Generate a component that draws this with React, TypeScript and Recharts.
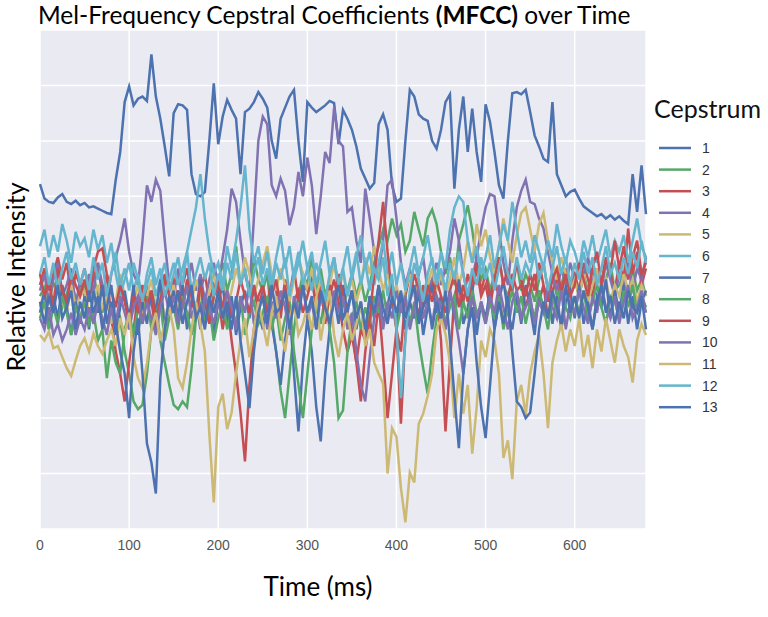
import React from 'react';
import { LineChart, Line, XAxis, YAxis, CartesianGrid, Legend } from 'recharts';

// sample times (ms)
const times = [
  0, 5, 10, 15, 20, 25, 30, 35, 40, 45,
  50, 55, 60, 65, 70, 75, 80, 85, 90, 95,
  100, 105, 110, 115, 120, 125, 130, 135, 140, 145,
  150, 155, 160, 165, 170, 175, 180, 185, 190, 195,
  200, 205, 210, 215, 220, 225, 230, 235, 240, 245,
  250, 255, 260, 265, 270, 275, 280, 285, 290, 295,
  300, 305, 310, 315, 320, 325, 330, 335, 340, 345,
  350, 355, 360, 365, 370, 375, 380, 385, 390, 395,
  400, 405, 410, 415, 420, 425, 430, 435, 440, 445,
  450, 455, 460, 465, 470, 475, 480, 485, 490, 495,
  500, 505, 510, 515, 520, 525, 530, 535, 540, 545,
  550, 555, 560, 565, 570, 575, 580, 585, 590, 595,
  600, 605, 610, 615, 620, 625, 630, 635, 640, 645,
  650, 655, 660, 665, 670, 675, 680,
];

const cep1 = [
  111, 98, 95, 94, 99, 102, 95, 93, 96, 92,
  94, 90, 91, 89, 87, 85, 84, 115, 140, 185,
  199, 182, 188, 190, 186, 228, 190, 170, 145, 118,
  175, 183, 182, 178, 120, 102, 100, 104, 150, 202,
  147, 172, 187, 178, 170, 120, 176, 179, 185, 194,
  188, 180, 150, 134, 170, 180, 190, 196, 150, 113,
  185, 180, 176, 179, 182, 186, 184, 147, 178, 170,
  160, 145, 125, 116, 107, 112, 165, 174, 160, 110,
  95, 98, 150, 196, 190, 174, 170, 168, 150, 143,
  160, 185, 192, 107, 160, 190, 140, 179, 140, 113,
  183, 167, 140, 110, 98, 150, 193, 194, 192, 196,
  176, 155, 145, 134, 131, 185, 120, 110, 100, 104,
  106, 98, 91, 88, 85, 82, 84, 80, 83, 79,
  82, 78, 75, 120, 86, 128, 84,
];

const cep2 = [
  10, 18, 5, 22, 14, 0, 12, 25, 8, 15,
  20, 5, 28, 12, -5, 10, 0, -20, -10, -40,
  -60, -85, -92, -88, -60, -20, 5, -30, -50, -70,
  -88, -92, -85, -90, -55, -10, 20, 5, -15, 10,
  25, 40, 15, 30, 55, 20, 35, 10, 45, 25,
  15, 30, -10, -40, -75, -100, -60, -20, 10, 30,
  20, 45, 15, 35, 10, 25, 40, 20, 0, 15,
  30, 10, 25, 5, 20, 40, 55, 70, 60, 80,
  65, 75, 50, 60, 86, 70, 55, 80, 88, 75,
  50, 30, 45, 20, 60, 75, 92, 70, 40, 25,
  35, 15, 30, 45, 20, 10, 25, 40, 15, 30,
  20, 5, 25, 40, 15, 30, 10, 20, 35, 15,
  25, 10, 30, 15, 35, 20, 5, 25, 40, 15,
  20, 30, 10, 35, 15, 25, 10,
];

const cep3 = [
  20, 35, 15, 30, 45, 25, 40, 10, 30, 20,
  35, 15, 25, 40, 10, 30, -10, -40, -60, -85,
  -50, -20, 10, -15, 20, 5, -20, 10, 30, 15,
  25, 0, 20, 35, 10, -5, 15, 30, 5, 20,
  10, -20, 5, -30, -60, -95, -139, -70, -20, 10,
  20, 0, 30, 15, -10, 25, 10, 35, 5, 20,
  15, 30, 0, 20, -15, 10, 25, 5, -20, -40,
  -25, -50, -20, -30, -10, -35, 5, -45, -100, -60,
  -20, -40, 10, 30, 15, -10, 20, 0, 25, 10,
  -30, -112, -50, 10, 25, 5, 30, 15, 35, 10,
  20, 0, 25, 10, -15, 5, 30, 15, 20, 0,
  15, 30, 5, 20, -10, 15, 25, 10, 35, 20,
  30, 15, 40, 25, 10, 35, 20, 45, 30, 15,
  40, 25, 71, 30, 50, 20, 35,
];

const cep4 = [
  15, 30, 5, 25, 40, 10, 20, 35, 0, 25,
  10, 30, 15, 40, 20, 5, 30, 45, 60, 80,
  50, 30, 20, 60, 110, 95, 115, 105, 60, 20,
  10, 35, 0, 20, 40, 15, 30, 5, 25, 40,
  20, 45, 70, 107, 95, 60, 30, 15, 80, 150,
  172, 165, 110, 100, 116, 105, 74, 90, 122, 100,
  135, 110, 66, 100, 140, 130, 180, 150, 145, 86,
  90, 60, 40, 107, 80, 50, 30, 60, 110, 115,
  80, 40, 20, 35, 10, 30, 45, 15, 25, 40,
  20, 35, 50, 80, 60, 30, 10, 25, 45, 70,
  90, 102, 100, 70, 40, 20, 60, 90, 105, 115,
  95, 93, 80, 71, 50, 30, 15, 35, 20, 40,
  25, 10, 30, 45, 20, 35, 15, 40, 25, 10,
  30, 20, 40, 15, 35, 25, 45,
];

const cep5 = [
  0, 15, -10, 10, 25, 5, -5, 20, 0, 10,
  15, -5, 5, 20, 0, 10, -15, 5, 30, 10,
  -10, 5, 20, -5, 10, 25, 0, 15, -10, 5,
  20, 0, 10, -15, 5, 25, 10, -5, 15, 30,
  10, 25, 0, 15, 35, 20, 45, 30, 10, 25,
  40, 55, 30, 15, 35, 20, 5, 25, 45, 30,
  15, 35, 10, 25, 0, 20, 40, 15, 30, 10,
  25, 5, 20, 45, 30, 55, 35, 15, 30, 10,
  20, 0, 15, 30, 10, 25, 5, 20, 35, 15,
  30, 10, 25, 45, 20, 35, 60, 40, 75, 55,
  70, 45, 30, 55, 80, 60, 40, 65, 85, 90,
  70, 50, 75, 85, 60, 40, 25, 45, 30, 15,
  25, 10, 30, 5, 20, 35, 15, 25, 5, 20,
  10, 30, 15, 25, 5, 20, 10,
];

const cep6 = [
  55, 70, 45, 65, 50, 75, 60, 40, 68, 55,
  62, 45, 70, 52, 65, 40, 58, 30, 10, 25,
  40, 15, 30, 5, 20, 35, 10, 25, 40, 15,
  30, 45, 20, 50, 70, 90, 120, 80, 50, 30,
  40, 20, 55, 35, 60, 90, 128, 70, 40, 55,
  30, 50, 20, 45, 65, 35, 55, 25, 40, 60,
  35, 50, 20, 40, 60, 30, 45, 15, 35, 55,
  25, 45, 65, 35, 50, 20, 40, 60, 30, 50,
  20, 40, 15, 35, 55, 30, 45, 65, 40, 25,
  50, 35, 70, 90, 100, 95, 60, 40, 55, 30,
  45, 65, 35, 55, 75, 60, 95, 70, 45, 60,
  40, 65, 50, 35, 60, 45, 75, 55, 40, 60,
  50, 35, 60, 45, 65, 40, 55, 70, 45, 60,
  50, 65, 40, 60, 80, 55, 45,
];

const cep7 = [
  -5, 15, -20, 10, -10, 20, 0, -25, 5, -15,
  10, -20, 15, -5, 20, -15, 5, -25, 0, 15,
  -10, 20, -25, 5, -15, 15, -5, 25, -20, 0,
  15, -10, 20, -20, 5, -5, 25, -15, 10, -25,
  5, 20, -15, 10, -25, 0, 15, -10, 20, -5,
  -20, 10, -15, -40, -70, -30, 0, -60, -112, -50,
  -10, -40, -90, -121, -60, -20, 10, -15, 20, -5,
  15, -20, 5, -25, 10, -10, 20, -15, 0, 25,
  -15, 10, -20, 5, -10, 15, -25, 0, 20, -5,
  10, -20, 15, -10, 25, -15, 0, 20, -25, 5,
  -10, 15, -20, 5, 25, -5, -20, 10, -15, 20,
  0, -25, 15, -5, 20, -15, 10, -20, 5, 15,
  -10, 20, -15, 5, -20, 10, 0, 25, -10, 15,
  -5, 20, -15, 10, -20, 5, 15,
];

const cep8 = [
  -10, 5, -20, 0, -15, 10, -5, -25, 0, -10,
  5, -15, -5, -30, -20, -64, -30, -50, -60, -20,
  -5, -25, 0, -15, 10, -20, -5, 5, -30, -10,
  0, -20, 10, -5, -25, -10, 5, -15, 0, -30,
  -10, 5, -20, 0, -15, 10, -25, -5, 5, -15,
  -5, 10, -20, 0, -30, -10, 5, -40, -70, -100,
  -60, -20, 0, -15, 10, -20, -50, -100, -93, -40,
  -10, 5, -20, 0, -15, 10, -5, 15, -10, 5,
  -20, 0, 10, -15, 5, -30, -55, -78, -40, -10,
  5, -15, 0, 10, -20, 5, -10, 15, -5, 0,
  -15, 5, -10, 10, -20, 0, 15, -5, 10, -15,
  5, -10, 15, 0, -20, 10, -5, 20, 0, -10,
  10, -5, 15, -10, 5, 20, 0, -15, 10, 5,
  -10, 15, 0, 20, -5, 10, 0,
];

const cep9 = [
  30, 10, 25, 0, 35, 15, 5, 30, 20, 10,
  25, 5, 35, 50, 53, 30, 15, 0, 20, 5,
  -15, 10, -5, 20, 0, 15, -10, 5, 25, 10,
  -5, 15, 0, 25, 10, -10, 20, 5, -15, 10,
  20, 0, 15, -10, 5, 25, 10, -5, 20, 0,
  15, -5, 10, 25, 0, 20, -10, 5, 15, -5,
  10, 25, 0, 15, -10, 20, 5, 30, 10, -5,
  -20, -50, -85, -40, -10, 30, 60, 95, 50, 10,
  -20, -105, -24, 10, 30, 15, 0, 20, 5, 25,
  10, -5, 15, 30, 0, 20, 5, 25, 40, 15,
  30, 10, 25, 45, 20, 35, 15, 40, 25, 10,
  30, 15, 40, 20, 5, 25, 35, 15, 30, 10,
  20, 40, 25, 10, 35, 50, 20, 45, 30, 60,
  35, 55, 25, 45, 60, 30, 40,
];

const cep10 = [
  -10, -20, 0, -25, -15, -30, -20, -5, -25, -10,
  -20, 0, -15, 5, -10, -25, 0, -15, 10, -5,
  -20, 0, 10, -15, 5, -10, -25, 0, 15, -5,
  10, -15, 0, 20, -10, 5, -20, 10, 0, -15,
  5, -10, 15, 0, -20, 10, -5, 20, -15, 0,
  10, -20, 5, -10, 15, 0, -25, 10, -5, 20,
  -10, 5, -20, 10, 0, -15, 15, -5, 10, -20,
  -5, -40, -70, -85, -45, -10, 10, -20, 5, -10,
  15, -5, 10, -20, 0, 20, -10, 5, -15, 10,
  0, -20, 15, -5, -30, -60, -20, 10, -10, 5,
  -15, 10, -5, 20, 0, -20, 5, 15, -10, 0,
  10, -15, 5, -5, 20, 0, -10, 15, -20, 5,
  -5, 15, 0, -15, 10, -5, 20, 0, -10, 10,
  -15, 5, 20, -10, 0, 15, -5,
];

const cep11 = [
  -25, -30, -22, -37, -35, -45, -55, -62, -48, -35,
  -28, -40, -24, -35, -42, -30, -20, -35, -10, -25,
  -5, -45, -64, -73, -50, -20, -5, -30, -15, 0,
  -20, -64, -73, -50, -20, 5, -15, -40, -114, -176,
  -90, -78, -110, -95, -60, -30, -10, -45, -20, 5,
  -15, -35, -5, 10, -20, -40, -10, 5, -25, -15,
  0, -20, 10, -30, -5, 15, -25, -45, -20, -5,
  -30, -15, 5, -35, -20, -50, -60, -69, -150, -109,
  -117, -163, -194, -149, -158, -105, -96, -80, -60, -20,
  -10, -24, -50, -100, -60, -96, -70, -132, -90, -30,
  -45, -20, -30, -60, -136, -120, -155, -85, -70, -97,
  -60, -40, -25, -60, -109, -50, -30, -15, -40, -20,
  -35, -10, -45, -25, -55, -20, -40, -10, -30, -50,
  -20, -35, -45, -68, -30, -15, -25,
];

const cep12 = [
  30, 45, 20, 40, 15, 35, 50, 25, 40, 20,
  35, 15, 45, 25, 40, 10, 30, 50, 20, 35,
  15, 40, 25, 5, 30, 45, 20, 35, 10, 25,
  40, 20, 35, 50, 15, 30, 45, 25, 40, 10,
  30, 15, 40, 25, 50, 20, 35, 10, 30, 45,
  20, 35, 15, 40, 25, 45, 10, 30, 50, 20,
  35, 15, 40, 25, 5, 30, 45, 20, 35, 10,
  30, 50, 20, 40, 15, 35, 25, 45, 10, 30,
  -20, -82, -30, 15, 40, 25, 5, 30, 45, 20,
  35, 15, 40, 25, 50, 30, 10, 35, 20, 45,
  25, 40, 15, 35, 55, 30, 20, 45, 25, 40,
  30, 50, 25, 40, 15, 35, 55, 30, 45, 20,
  40, 25, 50, 30, 45, 20, 35, 55, 30, 40,
  25, 45, 30, 50, 35, 60, 40,
];

const cep13 = [
  5, -15, 10, -5, 20, -10, 0, 15, -20, 5,
  -10, 15, -5, 10, -20, 0, 20, -15, -40, -60,
  -100, -40, -10, -60, -123, -140, -168, -64, -20, 10,
  -5, 15, -15, 5, 20, -10, 0, -20, 10, -5,
  15, -10, 5, -20, 10, -30, -60, -91, -40, -5,
  10, -15, 20, -5, 0, 15, -20, 5, -10, 20,
  -5, 10, -20, 15, 0, -15, 5, 20, -10, 0,
  15, -10, 5, -20, 10, -5, 20, 0, -15, 10,
  -5, 15, -10, 5, 20, -15, 0, 10, -20, 5,
  -10, 15, -30, -80, -127, -60, -20, 0, -50, -90,
  -118, -70, -20, 5, -15, 10, -40, -85, -90, -100,
  -95, -60, -20, 5, -10, 15, 0, -15, 20, -5,
  10, -10, 15, 0, -20, 5, 20, -5, 10, -15,
  5, -10, 15, 0, -5, 10, -20,
];

const xTicks = [0, 100, 200, 300, 400, 500, 600];
const yTicks = [-150, -100, -50, 0, 50, 100, 150, 200];

const BLUE = '#4C72B0';
const GREEN = '#55A868';
const RED = '#C44E52';
const PURPLE = '#8172B2';
const YELLOW = '#CCB974';
const CYAN = '#64B5CD';

const series = [
  { key: 'c1', name: '1', color: BLUE, values: cep1 },
  { key: 'c2', name: '2', color: GREEN, values: cep2 },
  { key: 'c3', name: '3', color: RED, values: cep3 },
  { key: 'c4', name: '4', color: PURPLE, values: cep4 },
  { key: 'c5', name: '5', color: YELLOW, values: cep5 },
  { key: 'c6', name: '6', color: CYAN, values: cep6 },
  { key: 'c7', name: '7', color: BLUE, values: cep7 },
  { key: 'c8', name: '8', color: GREEN, values: cep8 },
  { key: 'c9', name: '9', color: RED, values: cep9 },
  { key: 'c10', name: '10', color: PURPLE, values: cep10 },
  { key: 'c11', name: '11', color: YELLOW, values: cep11 },
  { key: 'c12', name: '12', color: CYAN, values: cep12 },
  { key: 'c13', name: '13', color: BLUE, values: cep13 },
];

const data = times.map((t, i) => {
  const row: Record<string, number> = { t };
  series.forEach((s) => {
    row[s.key] = s.values[i];
  });
  return row;
});

const labelFont = 'Lato, "Open Sans", sans-serif';
const tickFont = '"Liberation Sans", Arial, sans-serif';

const seriesIndex = (name: string) => series.findIndex((s) => s.name === name);

const CepstrumLegend = (props: any) => {
  const payload = [...(props.payload || [])].sort(
    (a: any, b: any) => seriesIndex(String(a.value)) - seriesIndex(String(b.value))
  );
  return (
    <svg width={123} height={340}>
      <text x={9} y={28} fontFamily={labelFont} fontSize={25} fill="#111">
        Cepstrum
      </text>
      {payload.map((entry: any, i: number) => {
        const y = 58 + i * 21.6;
        return (
          <g key={entry.value}>
            <line x1={14} x2={46} y1={y} y2={y} stroke={entry.color} strokeWidth={2.5} />
            <text x={57} y={y} dominantBaseline="central" fontFamily={tickFont} fontSize={14} fill="#333">
              {entry.value}
            </text>
          </g>
        );
      })}
    </svg>
  );
};

export default function App() {
  return (
    <div style={{ position: 'absolute', left: 0, top: 0, width: 768, height: 617, background: '#fff' }}>
      <LineChart
        width={768}
        height={617}
        data={data}
        margin={{ top: 30, right: 122, bottom: 58, left: 40 }}
      >
        <CartesianGrid fill="#EAEAF2" stroke="#FFFFFF" strokeWidth={1.5} />
        <XAxis
          type="number"
          dataKey="t"
          domain={[0, 680]}
          ticks={xTicks}
          interval={0}
          axisLine={false}
          tickLine={false}
          tickMargin={5}
          height={30}
          tick={{ fill: '#555', fontSize: 14, fontFamily: tickFont }}
        />
        <YAxis
          domain={[-200, 250]}
          ticks={yTicks}
          tickFormatter={() => ''}
          axisLine={false}
          tickLine={false}
          width={0}
        />
        <Legend
          layout="horizontal"
          verticalAlign="middle"
          align="center"
          content={CepstrumLegend}
          wrapperStyle={{ left: 645, top: 90, width: 123 }}
        />
        {series.map((s) => (
          <Line
            key={s.key}
            type="linear"
            dataKey={s.key}
            name={s.name}
            stroke={s.color}
            strokeWidth={2.5}
            dot={false}
            isAnimationActive={false}
          />
        ))}
      </LineChart>
      <svg
        width={768}
        height={617}
        style={{ position: 'absolute', left: 0, top: 0, pointerEvents: 'none' }}
      >
        <text x={38} y={24} fontFamily={labelFont} fontSize={24.5} fill="#000">
          Mel-Frequency Cepstral Coefficients <tspan fontWeight="bold">(MFCC)</tspan> over Time
        </text>
        <text
          x={25}
          y={277}
          transform="rotate(-90 25 277)"
          textAnchor="middle"
          fontFamily={labelFont}
          fontSize={25}
          fill="#000"
        >
          Relative Intensity
        </text>
        <text x={318} y={596} textAnchor="middle" fontFamily={labelFont} fontSize={26} fill="#000">
          Time (ms)
        </text>
      </svg>
    </div>
  );
}
